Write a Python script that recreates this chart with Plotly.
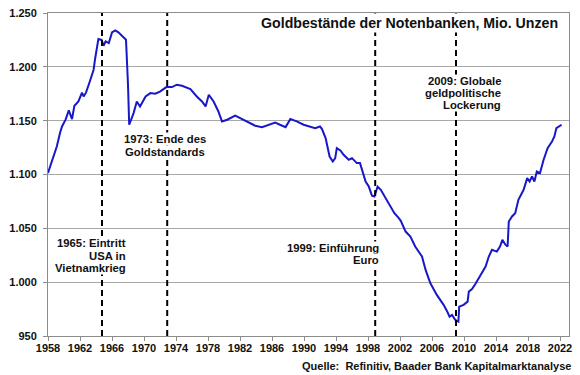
import plotly.graph_objects as go

# Goldbestände der Notenbanken, Mio. Unzen
years = [1958.0, 1958.5, 1959.1, 1959.5, 1959.75, 1960.2, 1960.6, 1961.0, 1961.3, 1961.8,
         1962.25, 1962.45, 1962.75, 1963.3, 1963.7, 1963.9, 1964.3, 1964.7, 1964.95, 1965.2,
         1965.6, 1966.0, 1966.4, 1966.8, 1967.45, 1967.75, 1968.0, 1968.15, 1968.7, 1969.1,
         1969.5, 1970.2, 1970.8, 1971.4, 1972.0, 1972.8, 1973.5, 1974.1, 1974.75, 1975.8,
         1976.6, 1977.25, 1977.7, 1978.1, 1978.7, 1979.3, 1979.75, 1980.4, 1981.4, 1982.0,
         1982.9, 1983.9, 1984.75, 1985.6, 1986.4, 1987.0, 1987.7, 1988.3, 1989.1, 1989.95,
         1990.8, 1991.4, 1992.0, 1992.25, 1992.7, 1992.95, 1993.2, 1993.6, 1993.9, 1994.1,
         1994.55, 1994.95, 1995.6, 1996.0, 1996.6, 1997.0, 1997.4, 1997.7, 1998.1, 1998.5,
         1998.8, 1999.2, 1999.6, 1999.95, 2000.7, 2001.3, 2001.8, 2002.1, 2002.7, 2003.3,
         2003.9, 2004.75, 2005.2, 2005.8, 2006.6, 2007.45, 2007.9, 2008.2, 2008.5, 2008.9,
         2009.3, 2009.4, 2009.95, 2010.45, 2010.6, 2011.0, 2011.4, 2011.8, 2012.25, 2012.7,
         2013.1, 2013.5, 2014.1, 2014.5, 2014.8, 2015.2, 2015.45, 2015.6, 2016.0, 2016.4,
         2016.8, 2017.45, 2017.9, 2018.2, 2018.5, 2018.8, 2019.1, 2019.5, 2019.95, 2020.45,
         2021.0, 2021.3, 2021.55, 2022.0, 2022.2]
gold = [1101.5, 1113.7, 1126.0, 1138.5, 1144.6, 1150.9, 1159.5, 1151.5, 1163.8, 1167.8,
        1176.0, 1172.5, 1176.0, 1188.0, 1197.3, 1208.0, 1225.8, 1225.0, 1219.6, 1223.6,
        1222.0, 1232.0, 1233.8, 1232.0, 1226.8, 1225.2, 1183.4, 1146.2, 1157.0, 1167.8,
        1163.2, 1172.5, 1175.6, 1175.0, 1177.0, 1181.2, 1181.2, 1183.4, 1182.4, 1179.4,
        1172.5, 1167.8, 1163.2, 1174.0, 1167.8, 1158.5, 1149.3, 1150.9, 1154.6, 1152.4,
        1149.3, 1145.3, 1144.0, 1146.2, 1148.3, 1146.2, 1144.0, 1151.5, 1149.3, 1146.2,
        1144.6, 1143.1, 1144.6, 1142.2, 1133.8, 1126.0, 1116.7, 1112.1, 1115.2, 1124.5,
        1122.3, 1118.3, 1113.7, 1115.2, 1110.6, 1110.6, 1099.7, 1093.5, 1088.8, 1080.2,
        1079.5, 1088.8, 1085.8, 1081.1, 1071.0, 1064.0, 1060.0, 1057.0, 1047.0, 1042.4,
        1033.1, 1023.8, 1011.4, 999.0, 988.2, 978.9, 972.7, 968.0, 969.6, 965.0,
        963.4, 977.3, 978.9, 981.9, 991.2, 993.5, 998.0, 1003.0, 1008.4, 1014.5,
        1023.8, 1030.0, 1028.4, 1033.1, 1039.3, 1034.6, 1033.1, 1056.3, 1061.0, 1064.1,
        1076.5, 1085.8, 1096.6, 1093.5, 1098.1, 1093.5, 1102.8, 1101.3, 1113.7, 1124.5,
        1130.7, 1135.3, 1143.1, 1145.3, 1146.2]

x_tick_vals = list(range(1958, 2023, 4))
y_tick_vals = [950, 1000, 1050, 1100, 1150, 1200, 1250]
y_tick_text = ["950", "1.000", "1.050", "1.100", "1.150", "1.200", "1.250"]

event_years = [1964.75, 1972.9, 1998.9, 2009.0]

title_text = "Goldbestände der Notenbanken, Mio. Unzen"
source_text = "Quelle:  Refinitiv, Baader Bank Kapitalmarktanalyse"

FONT = "Liberation Sans, Arial, sans-serif"

fig = go.Figure()
fig.add_trace(go.Scatter(x=years, y=gold, mode="lines",
                         line=dict(color="#1818C8", width=2), showlegend=False,
                         hoverinfo="skip"))

for ey in event_years:
    fig.add_shape(type="line", xref="x", yref="paper", x0=ey, x1=ey, y0=0, y1=1,
                  line=dict(color="black", width=2, dash="6px,4px"))

def lab(text, x, y, anchor):
    fig.add_annotation(text=text, x=x, y=y, xref="x", yref="y", xanchor=anchor,
                       yanchor="middle", showarrow=False, bgcolor="white", borderpad=0,
                       font=dict(family=FONT, size=11.3, color="#111", weight="bold"))

lab("1973: Ende des", 1972.66, 1133.3, "center")
lab("Goldstandards", 1972.66, 1121.2, "center")
lab("1965: Eintritt", 1967.9, 1036.5, "right")
lab("USA in", 1967.9, 1024.6, "right")
lab("Vietnamkrieg", 1967.9, 1013.0, "right")
lab("1999: Einführung", 1999.54, 1032.0, "right")
lab("Euro", 1999.54, 1020.5, "right")
lab("2009: Globale", 2014.75, 1187.0, "right")
lab("geldpolitische", 2014.75, 1176.0, "right")
lab("Lockerung", 2014.75, 1165.0, "right")

fig.add_annotation(text=title_text, x=2022.0, y=1241.0, xref="x", yref="y",
                   xanchor="right", yanchor="middle", showarrow=False,
                   bgcolor="white", borderpad=1,
                   font=dict(family=FONT, size=14.2, color="#111", weight="bold"))
fig.add_annotation(text=source_text, x=1.0083, y=-0.0926, xref="paper", yref="paper",
                   xanchor="right", yanchor="middle", showarrow=False,
                   font=dict(family=FONT, size=11, color="#111", weight="bold"))

fig.update_layout(
    width=580, height=375,
    margin=dict(l=48, r=11, t=13, b=39, pad=0, autoexpand=False),
    paper_bgcolor="white", plot_bgcolor="white",
    font=dict(family=FONT, size=11, color="#111"),
    xaxis=dict(range=[1958, 2023.125], tickmode="array", tickvals=x_tick_vals,
               automargin=False, ticklabelstandoff=-2,
               showgrid=False, zeroline=False, showline=True, linecolor="#8c8c8c",
               linewidth=1, mirror=True, ticks="outside", ticklen=4, tickcolor="#8c8c8c",
               tickfont=dict(family=FONT, size=11, color="#111", weight="bold")),
    yaxis=dict(range=[950, 1250], tickmode="array", tickvals=y_tick_vals,
               automargin=False, ticklabelstandoff=4,
               ticktext=y_tick_text, showgrid=True, gridcolor="#a8a8a8", gridwidth=1,
               zeroline=False, showline=True, linecolor="#8c8c8c", linewidth=1,
               mirror=True, ticks="outside", ticklen=4, tickcolor="#8c8c8c",
               tickfont=dict(family=FONT, size=11, color="#111", weight="bold")),
)

fig.write_html("out.html", config={"displayModeBar": False},
               post_script="document.body.style.margin='0';document.body.style.overflow='hidden';")
